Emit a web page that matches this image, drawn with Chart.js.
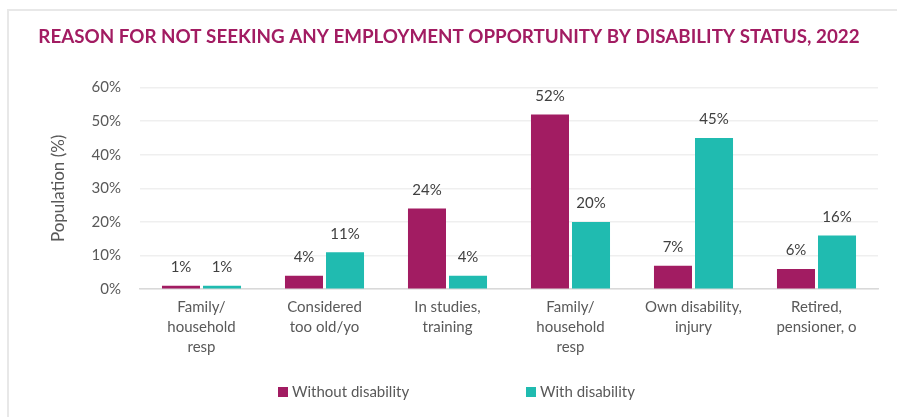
<!DOCTYPE html>
<html>
<head>
<meta charset="utf-8">
<script src="https://cdn.jsdelivr.net/npm/chart.js@4/dist/chart.umd.min.js"></script>
<style>
  html, body { margin: 0; padding: 0; background: #ffffff; }
  #wrap { width: 897px; height: 417px; position: relative; }
</style>
</head>
<body>
<div id="wrap"><canvas id="chart" width="897" height="417"></canvas></div>
<script>
// Reasons for not seeking employment, share of population (%)
const categories = [
  ["Family/", "household", "resp"],
  ["Considered", "too old/yo"],
  ["In studies,", "training"],
  ["Family/", "household", "resp"],
  ["Own disability,", "injury"],
  ["Retired,", "pensioner, o"]
];
const withoutDisability = [1, 4, 24, 52, 7, 6];
const withDisability = [1, 11, 4, 20, 45, 16];
const seriesNames = ["Without disability", "With disability"];
const yTicks = [0, 10, 20, 30, 40, 50, 60];

const COLORS = ["#A21C62", "#20BBB0"];
const FONT = "Lato, 'Liberation Sans', sans-serif";

// Light frame on the top and left edges
const framePlugin = {
  id: "frame",
  beforeDraw(chart) {
    const ctx = chart.ctx;
    ctx.save();
    ctx.strokeStyle = "#e8e8e8";
    ctx.lineWidth = 2;
    ctx.beginPath();
    ctx.moveTo(8, chart.height);
    ctx.lineTo(8, 10);
    ctx.lineTo(chart.width, 10);
    ctx.stroke();
    ctx.restore();
  }
};

// Value labels above each bar
const valueLabels = {
  id: "valueLabels",
  afterDatasetsDraw(chart) {
    const ctx = chart.ctx;
    ctx.save();
    ctx.font = "15px " + FONT;
    ctx.fillStyle = "#404040";
    ctx.textAlign = "center";
    ctx.textBaseline = "middle";
    chart.data.datasets.forEach((ds, di) => {
      chart.getDatasetMeta(di).data.forEach((bar, i) => {
        ctx.fillText(ds.data[i] + "%", bar.x, bar.y - 18.5);
      });
    });
    ctx.restore();
  }
};

// Bottom legend with square swatches
const bottomLegend = {
  id: "bottomLegend",
  afterDraw(chart) {
    const ctx = chart.ctx;
    ctx.save();
    ctx.font = "15px " + FONT;
    ctx.textBaseline = "middle";
    ctx.textAlign = "left";
    const starts = [278, 526];
    const cy = 392;
    chart.data.datasets.forEach((ds, i) => {
      const x = starts[i];
      ctx.fillStyle = ds.backgroundColor;
      ctx.fillRect(x, cy - 5, 10, 10);
      ctx.fillStyle = "#595959";
      ctx.fillText(ds.label, x + 14, cy);
    });
    ctx.restore();
  }
};

new Chart(document.getElementById("chart"), {
  type: "bar",
  data: {
    labels: categories,
    datasets: [
      { label: seriesNames[0], data: withoutDisability, backgroundColor: COLORS[0] },
      { label: seriesNames[1], data: withDisability, backgroundColor: COLORS[1] }
    ]
  },
  options: {
    responsive: false,
    animation: false,
    categoryPercentage: 0.667,
    barPercentage: 0.927,
    layout: { padding: { left: 20, right: 19, top: 0, bottom: 52 } },
    plugins: {
      legend: { display: false },
      tooltip: { enabled: false },
      title: {
        display: true,
        text: "REASON FOR NOT SEEKING ANY EMPLOYMENT OPPORTUNITY BY DISABILITY STATUS, 2022",
        color: "#A21C62",
        font: { family: FONT, size: 18.8, weight: "bold", lineHeight: 1.2 },
        padding: { top: 26, bottom: 39 }
      }
    },
    scales: {
      x: {
        grid: { display: false, drawTicks: false },
        border: { color: "#d9d9d9", width: 1.5 },
        ticks: {
          color: "#595959",
          font: { family: FONT, size: 15, lineHeight: 1.33 },
          padding: 8,
          maxRotation: 0,
          autoSkip: false
        }
      },
      y: {
        min: yTicks[0],
        max: yTicks[yTicks.length - 1],
        afterBuildTicks(scale) { scale.ticks = yTicks.map(v => ({ value: v })); },
        afterFit(scale) { scale.width = 120; },
        grid: { color: "#efefef", lineWidth: 1.5, drawTicks: false },
        border: { display: false },
        ticks: {
          color: "#595959",
          font: { family: FONT, size: 15 },
          padding: 19,
          callback: v => v + "%"
        },
        title: {
          display: true,
          text: "Population (%)",
          color: "#595959",
          font: { family: FONT, size: 17 },
          padding: { top: 28, bottom: 0 }
        }
      }
    }
  },
  plugins: [framePlugin, valueLabels, bottomLegend]
});
</script>
</body>
</html>
